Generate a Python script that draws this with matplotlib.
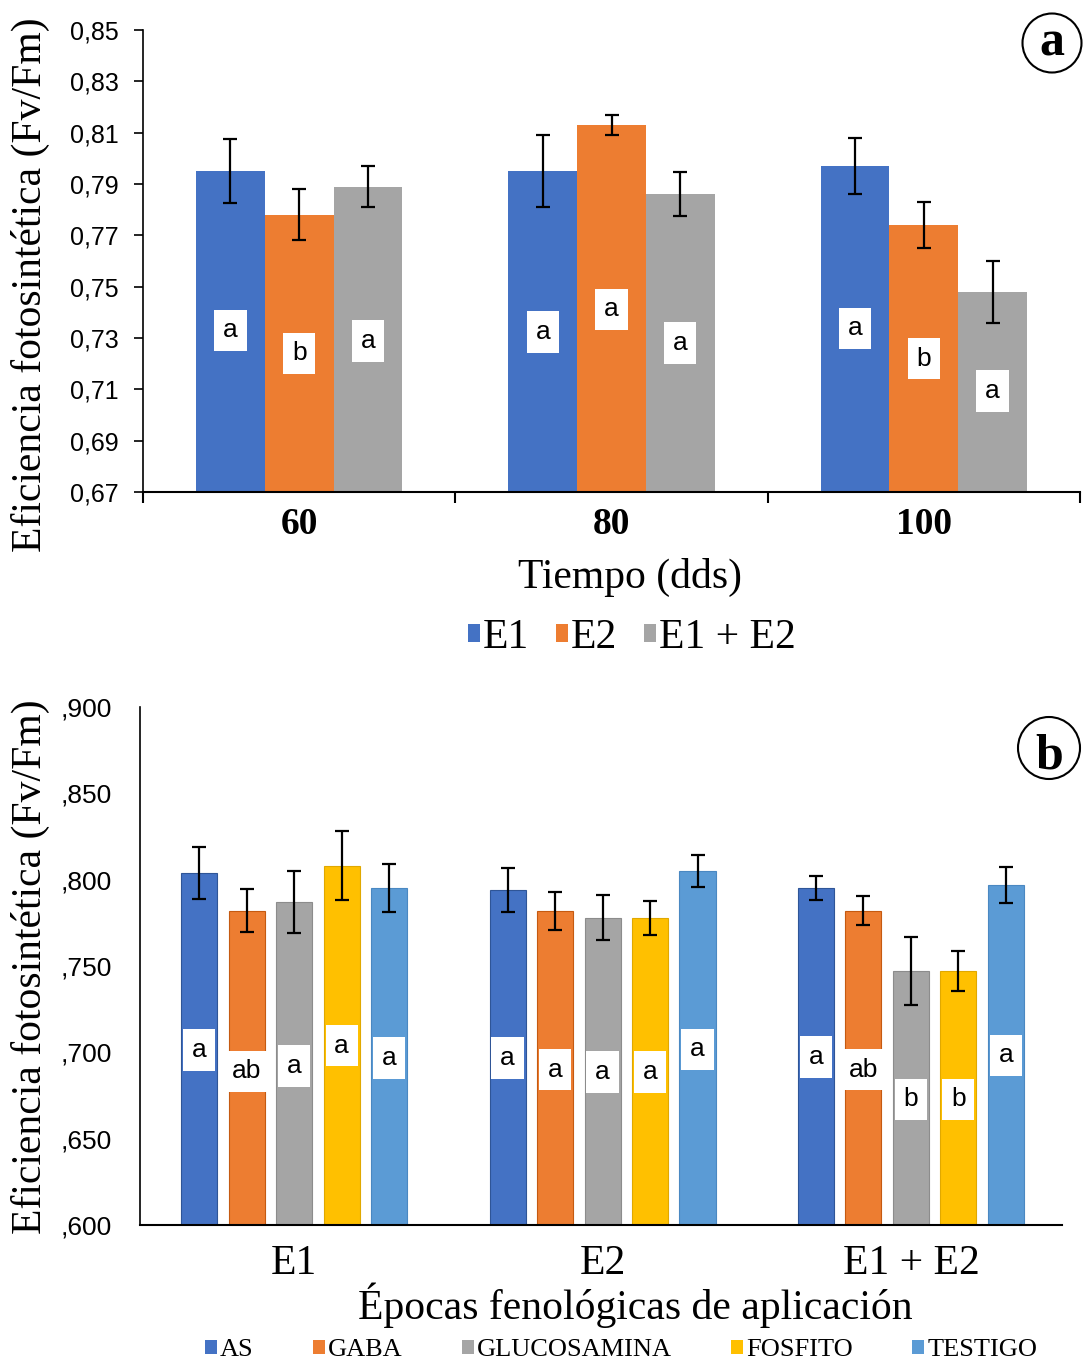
import matplotlib.pyplot as plt
import numpy as np
from matplotlib.patches import Ellipse, Patch
from matplotlib.ticker import FuncFormatter

W, H = 1083, 1362
SERIF = "Liberation Serif"
SANS = "Liberation Sans"

# ---- panel a: Fv/Fm by time (dds) and application epoch ----
times = ["60", "80", "100"]
epochs_a = ["E1", "E2", "E1 + E2"]
a_e1 = [0.795, 0.795, 0.797]
a_e2 = [0.778, 0.813, 0.774]
a_e12 = [0.789, 0.786, 0.748]
a_e1_err = [0.0125, 0.014, 0.011]
a_e2_err = [0.010, 0.004, 0.009]
a_e12_err = [0.008, 0.0085, 0.012]
a_e1_let = ["a", "a", "a"]
a_e2_let = ["b", "a", "b"]
a_e12_let = ["a", "a", "a"]
a_e1_let_y = [0.733, 0.7323, 0.7338]
a_e2_let_y = [0.724, 0.7412, 0.722]
a_e12_let_y = [0.7288, 0.728, 0.7093]

# ---- panel b: Fv/Fm by epoch and product ----
epochs_b = ["E1", "E2", "E1 + E2"]
products = ["AS", "GABA", "GLUCOSAMINA", "FOSFITO", "TESTIGO"]
b_as = [0.804, 0.794, 0.795]
b_gaba = [0.782, 0.782, 0.782]
b_gluc = [0.787, 0.778, 0.747]
b_fosf = [0.808, 0.778, 0.747]
b_test = [0.795, 0.805, 0.797]
b_as_err = [0.015, 0.013, 0.007]
b_gaba_err = [0.0125, 0.011, 0.0083]
b_gluc_err = [0.018, 0.013, 0.0197]
b_fosf_err = [0.020, 0.0098, 0.0114]
b_test_err = [0.014, 0.0093, 0.0103]
b_as_let = ["a", "a", "a"]
b_gaba_let = ["ab", "a", "ab"]
b_gluc_let = ["a", "a", "b"]
b_fosf_let = ["a", "a", "b"]
b_test_let = ["a", "a", "a"]
b_as_let_y = [0.7014, 0.6968, 0.6972]
b_gaba_let_y = [0.689, 0.690, 0.690]
b_gluc_let_y = [0.692, 0.6885, 0.6728]
b_fosf_let_y = [0.7038, 0.6885, 0.6728]
b_test_let_y = [0.6968, 0.7018, 0.6983]

BLUE = "#4472C4"
ORANGE = "#ED7D31"
GRAY = "#A5A5A5"
YELLOW = "#FFC000"
LBLUE = "#5B9BD5"


def letter_box(ax, x, y, s):
    ax.text(x, y, s, ha="center", va="center", fontsize=19, family=SANS,
            bbox=dict(boxstyle="square,pad=0.33", fc="white", ec="none"),
            zorder=5)


def circle_tag(fig, cx, cy, r, s, base_y):
    fig.add_artist(Ellipse((cx / W, 1 - cy / H), 2 * r / W, 2 * r / H,
                           transform=fig.transFigure, fill=False,
                           ec="black", lw=1.5))
    fig.text(cx / W, 1 - base_y / H, s, ha="center", va="baseline",
             fontsize=36, fontweight="bold", family=SERIF)


fig = plt.figure(figsize=(W / 100, H / 100), dpi=100)

# ================= panel a =================
ax1 = fig.add_axes([143 / W, 1 - 492 / H, 937 / W, 462 / H])
x = np.arange(len(times))
bw = 0.22
series_a = [
    (a_e1, a_e1_err, a_e1_let, a_e1_let_y, BLUE),
    (a_e2, a_e2_err, a_e2_let, a_e2_let_y, ORANGE),
    (a_e12, a_e12_err, a_e12_let, a_e12_let_y, GRAY),
]
for i, (vals, err, lets, lety, col) in enumerate(series_a):
    xs = x + (i - 1) * bw
    ax1.bar(xs, vals, width=bw, color=col, zorder=2)
    ax1.errorbar(xs, vals, yerr=err, fmt="none", ecolor="black",
                 elinewidth=1.6, capsize=4.7, capthick=1.6, zorder=4)
    for xi, yi, s in zip(xs, lety, lets):
        letter_box(ax1, xi, yi, s)

ax1.set_xlim(-0.5, 2.5)
ax1.set_ylim(0.67, 0.85)
ax1.set_yticks(np.arange(0.67, 0.851, 0.02))
ax1.yaxis.set_major_formatter(FuncFormatter(lambda v, p: f"{v:.2f}".replace(".", ",")))
ax1.set_xticks(x)
ax1.set_xticklabels(times, family=SERIF, fontsize=27, fontweight="bold")
ax1.set_xticks([-0.5, 0.5, 1.5, 2.5], minor=True)
ax1.tick_params(axis="x", which="major", length=0, pad=11)
ax1.tick_params(axis="x", which="minor", length=8, width=1.5, direction="out")
ax1.tick_params(axis="y", length=6.5, width=1.2, pad=11, labelsize=18)
for lab in ax1.get_yticklabels():
    lab.set_family(SANS)
for sp in ["top", "right"]:
    ax1.spines[sp].set_visible(False)
ax1.spines["left"].set_linewidth(1.2)
ax1.spines["bottom"].set_linewidth(1.5)
ax1.set_ylabel("Eficiencia fotosintética (Fv/Fm)", family=SERIF, fontsize=30)
ax1.yaxis.set_label_coords(-0.099, 0.448)

fig.text(630 / W, 1 - 577 / H, "Tiempo (dds)", ha="center", va="center",
         family=SERIF, fontsize=30)

fig.legend([Patch(fc=c) for c in [BLUE, ORANGE, GRAY]], epochs_a,
           loc="center", bbox_to_anchor=(632 / W, 1 - 638 / H), ncol=3,
           frameon=False, prop={"family": SERIF, "size": 30},
           handlelength=0.27, handleheight=0.27, handletextpad=0.08,
           columnspacing=0.65, borderpad=0)

circle_tag(fig, 1052, 43, 29.5, "a", 55)

# ================= panel b =================
ax2 = fig.add_axes([140 / W, 1 - 1225 / H, 922 / W, 518 / H])
xb = np.arange(len(epochs_b))
pitch = 0.154
bw2 = 0.117
series_b = [
    (b_as, b_as_err, b_as_let, b_as_let_y, BLUE, "#2F5597"),
    (b_gaba, b_gaba_err, b_gaba_let, b_gaba_let_y, ORANGE, "#C55A11"),
    (b_gluc, b_gluc_err, b_gluc_let, b_gluc_let_y, GRAY, "#8C8C8C"),
    (b_fosf, b_fosf_err, b_fosf_let, b_fosf_let_y, YELLOW, "#E0A800"),
    (b_test, b_test_err, b_test_let, b_test_let_y, LBLUE, "#4A88C2"),
]
for i, (vals, err, lets, lety, col, edge) in enumerate(series_b):
    xs = xb + (i - 2) * pitch
    ax2.bar(xs, vals, width=bw2, color=col, edgecolor=edge, linewidth=0.8,
            zorder=2)
    ax2.errorbar(xs, vals, yerr=err, fmt="none", ecolor="black",
                 elinewidth=1.6, capsize=5, capthick=1.6, zorder=4)
    for xi, yi, s in zip(xs, lety, lets):
        letter_box(ax2, xi, yi, s)

ax2.set_xlim(-0.5, 2.49)
ax2.set_ylim(0.6, 0.9)
ax2.set_yticks(np.arange(0.6, 0.901, 0.05))
ax2.yaxis.set_major_formatter(FuncFormatter(lambda v, p: f"{v:.3f}"[1:].replace(".", ",")))
ax2.set_xticks(xb)
ax2.set_xticklabels(epochs_b, family=SERIF, fontsize=30)
ax2.tick_params(axis="x", length=0, pad=14)
ax2.tick_params(axis="y", length=0, pad=20, labelsize=19)
for lab in ax2.get_yticklabels():
    lab.set_family(SANS)
for sp in ["top", "right"]:
    ax2.spines[sp].set_visible(False)
ax2.spines["left"].set_linewidth(1.2)
ax2.spines["bottom"].set_linewidth(1.5)
ax2.set_ylabel("Eficiencia fotosintética (Fv/Fm)", family=SERIF, fontsize=30)
ax2.yaxis.set_label_coords(-0.0976, 0.498)

fig.text(635 / W, 1 - 1305 / H, "Épocas fenológicas de aplicación",
         ha="center", va="center", family=SERIF, fontsize=30)

fig.legend([Patch(fc=c) for c in [BLUE, ORANGE, GRAY, YELLOW, LBLUE]], products,
           loc="center", bbox_to_anchor=(621 / W, 1 - 1350 / H), ncol=5,
           frameon=False, prop={"family": SERIF, "size": 19},
           handlelength=0.45, handleheight=0.45, handletextpad=0.12,
           columnspacing=2.25, borderpad=0)

circle_tag(fig, 1049, 748, 31, "b", 768)

fig.savefig("out.png", dpi=100)
